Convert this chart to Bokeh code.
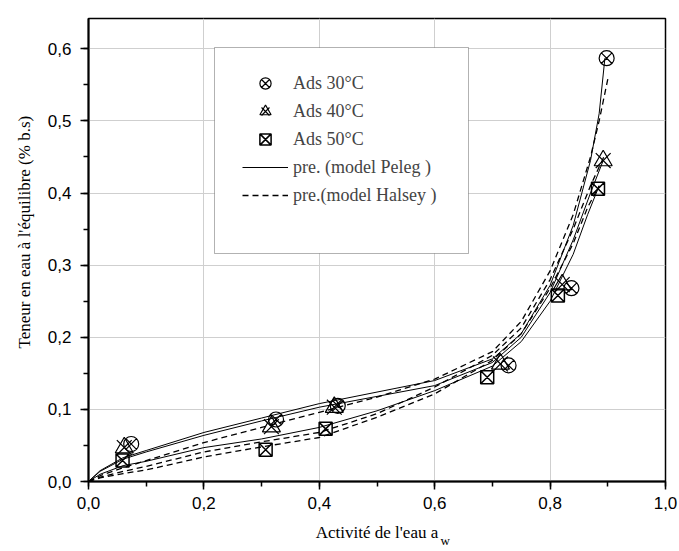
from bokeh.plotting import figure
from bokeh.models import (Range1d, SingleIntervalTicker, CustomJSTickFormatter, Legend,
                          LegendItem, Title, BoxAnnotation)
from bokeh.embed import file_html
from bokeh.resources import INLINE

# ---- measured data ----
x30 = [0.074, 0.325, 0.432, 0.728, 0.837, 0.898]
y30 = [0.052, 0.086, 0.105, 0.161, 0.268, 0.587]
x40 = [0.062, 0.317, 0.426, 0.714, 0.821, 0.892]
y40 = [0.047, 0.076, 0.103, 0.163, 0.273, 0.445]
x50 = [0.059, 0.307, 0.411, 0.691, 0.8135, 0.883]
y50 = [0.029, 0.044, 0.073, 0.1445, 0.258, 0.406]

# ---- model curves ----
base_x = [0, 0.02, 0.06, 0.1, 0.2, 0.3, 0.4, 0.5, 0.6, 0.7, 0.75, 0.8, 0.84]
peleg30_x = base_x + [0.87, 0.885, 0.895]
peleg30_y = [0, 0.015, 0.033, 0.043, 0.068, 0.088, 0.108, 0.124, 0.14, 0.17, 0.205, 0.272, 0.355, 0.445, 0.51, 0.587]
halsey30_x = base_x + [0.87, 0.885, 0.9]
halsey30_y = [0, 0.008, 0.019, 0.029, 0.054, 0.075, 0.096, 0.117, 0.142, 0.18, 0.222, 0.292, 0.37, 0.45, 0.50, 0.558]
peleg40_x = base_x + [0.87, 0.892]
peleg40_y = [0, 0.014, 0.031, 0.041, 0.064, 0.084, 0.103, 0.118, 0.133, 0.165, 0.2, 0.262, 0.335, 0.40, 0.445]
halsey40_x = base_x + [0.87, 0.893]
halsey40_y = [0, 0.006, 0.014, 0.021, 0.041, 0.055, 0.068, 0.094, 0.131, 0.175, 0.213, 0.28, 0.35, 0.41, 0.45]
peleg50_x = base_x + [0.865, 0.885]
peleg50_y = [0, 0.01, 0.022, 0.028, 0.047, 0.059, 0.075, 0.098, 0.126, 0.16, 0.194, 0.25, 0.315, 0.37, 0.41]
halsey50_x = base_x + [0.865, 0.885]
halsey50_y = [0, 0.005, 0.011, 0.016, 0.034, 0.048, 0.061, 0.089, 0.1215, 0.168, 0.205, 0.268, 0.33, 0.38, 0.41]

labels = ["Ads 30°C", "Ads 40°C", "Ads 50°C", "pre. (model Peleg )", "pre.(model Halsey )"]
x_title = "Activité de l'eau a"
x_title_sub = "w"
y_title = "Teneur en eau à l'équilibre (% b.s)"

SERIF = "Liberation Serif"
SANS = "Liberation Sans"

p = figure(width=679, height=551, output_backend="svg", toolbar_location=None,
           x_range=Range1d(0, 1.0), y_range=Range1d(0, 0.642),
           min_border_left=88, min_border_right=14, min_border_top=18, min_border_bottom=70,
           background_fill_color="white", border_fill_color="white")

p.outline_line_color = "black"
p.outline_line_width = 1.5

p.xaxis.ticker = SingleIntervalTicker(interval=0.2, num_minor_ticks=2)
p.yaxis.ticker = SingleIntervalTicker(interval=0.1, num_minor_ticks=2)
fmt = CustomJSTickFormatter(code="return tick.toFixed(1).replace('.', ',');")
for ax in (p.xaxis, p.yaxis):
    ax.formatter = fmt
    ax.axis_line_width = 2
    ax.axis_line_color = "black"
    ax.major_tick_line_width = 1.5
    ax.minor_tick_line_width = 1.5
    ax.major_tick_in = 0
    ax.major_tick_out = 8
    ax.minor_tick_in = 0
    ax.minor_tick_out = 5
    ax.major_label_text_font = SANS
    ax.major_label_text_font_size = "17px"
    ax.major_label_text_color = "black"
p.xaxis.major_label_standoff = 7
p.yaxis.major_label_standoff = 9

p.xaxis.axis_label = x_title
p.xaxis.axis_label_text_font = SERIF
p.xaxis.axis_label_text_font_size = "17px"
p.xaxis.axis_label_text_font_style = "normal"
p.xaxis.axis_label_text_color = "black"
p.xaxis.axis_label_standoff = 11

p.grid.grid_line_color = "#cfcfcf"
p.grid.grid_line_width = 1

# curves
solid = dict(line_color="black", line_width=1)
dashed = dict(line_color="black", line_width=1.3, line_dash="6 4")
rp = p.line(peleg30_x, peleg30_y, **solid)
p.line(peleg40_x, peleg40_y, **solid)
p.line(peleg50_x, peleg50_y, **solid)
rh = p.line(halsey30_x, halsey30_y, **dashed)
p.line(halsey40_x, halsey40_y, **dashed)
p.line(halsey50_x, halsey50_y, **dashed)

mk = dict(line_color="black", line_width=1.2, fill_alpha=0)
r30 = p.scatter(x30, y30, marker="circle_x", size=15, **mk)
r40a = p.scatter(x40, y40, marker="triangle", size=18, **mk)
r40b = p.scatter(x40, y40, marker="x", size=21, **mk)
r50 = p.scatter(x50, y50, marker="square_x", size=13, line_width=1.5, line_color="black", fill_alpha=0)

# legend frame
box = BoxAnnotation(left=126, right=380, top=434, bottom=228,
                    left_units="screen", right_units="screen", top_units="screen", bottom_units="screen",
                    fill_color="white", fill_alpha=1.0, line_color="black", line_width=1)
p.add_layout(box)

legend = Legend(items=[
    LegendItem(label=labels[0], renderers=[r30]),
    LegendItem(label=labels[1], renderers=[r40a, r40b]),
    LegendItem(label=labels[2], renderers=[r50]),
    LegendItem(label=labels[3], renderers=[rp]),
    LegendItem(label=labels[4], renderers=[rh]),
], location=(149, 267), padding=5, spacing=0, glyph_width=46, glyph_height=28,
   label_height=28, label_standoff=5, label_text_font=SERIF, label_text_font_size="18px",
   border_line_alpha=0, background_fill_alpha=0, margin=0)
p.add_layout(legend, "center")

# axis titles
p.add_layout(Title(text=y_title, align="left", offset=133, standoff=22,
                   text_font=SERIF, text_font_size="17px", text_font_style="normal",
                   text_color="black"), "left")
p.add_layout(Title(text=x_title_sub, align="left", offset=352, standoff=-24,
                   vertical_align="top",
                   text_font=SERIF, text_font_size="13px", text_font_style="normal",
                   text_color="black"), "below")

open("out.html", "w").write(file_html(p, INLINE))
